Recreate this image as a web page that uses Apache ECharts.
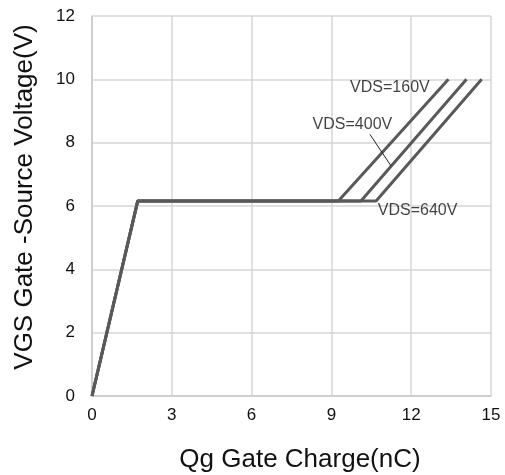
<!DOCTYPE html>
<html>
<head>
<meta charset="utf-8">
<script src="https://cdn.jsdelivr.net/npm/echarts@6/dist/echarts.min.js"></script>
<style>
  html, body { margin: 0; padding: 0; background: #fff; }
  #main { width: 505px; height: 475px; }
</style>
</head>
<body>
<div id="main"></div>
<script>
// gate charge curves, [Qg nC, VGS V]
var vds160 = [[0, 0], [1.72, 6.16], [9.26, 6.16], [13.4, 10]];
var vds400 = [[0, 0], [1.72, 6.16], [10.11, 6.16], [14.08, 10]];
var vds640 = [[0, 0], [1.72, 6.16], [10.68, 6.16], [14.65, 10]];
var curveNames = ['VDS=160V', 'VDS=400V', 'VDS=640V'];
// label anchor points in data units
var labelPos = [[11.2, 9.75], [9.79, 8.58], [12.24, 5.84]];
var leader = [[10.45, 8.26], [11.24, 7.27]];

var myChart = echarts.init(document.getElementById('main'));
var font = 'Liberation Sans, Arial, sans-serif';

function curve(name, data) {
    return {
        name: name,
        type: 'line',
        data: data,
        symbol: 'none',
        silent: true,
        lineStyle: { color: '#595959', width: 3 },
        z: 3
    };
}

var series = [
    curve(curveNames[0], vds160),
    curve(curveNames[1], vds400),
    curve(curveNames[2], vds640),
    {
        type: 'line',
        data: leader,
        symbol: 'none',
        silent: true,
        lineStyle: { color: '#222', width: 1 },
        z: 4
    },
    {
        type: 'scatter',
        symbolSize: 0,
        silent: true,
        data: labelPos.map(function (p, i) { return [p[0], p[1], curveNames[i]]; }),
        label: {
            show: true,
            position: 'inside',
            formatter: function (p) { return p.data[2]; },
            color: '#111',
            fontSize: 16,
            fontFamily: font
        },
        z: 5
    }
];

myChart.setOption({
    animation: false,
    grid: { left: 92, right: 14, top: 16, bottom: 79 },
    xAxis: {
        type: 'value',
        min: 0, max: 15, interval: 3,
        axisLine: { lineStyle: { color: '#c8c8c8', width: 1.5 } },
        axisTick: { show: false },
        axisLabel: { fontSize: 17, color: '#111', fontFamily: font, margin: 11 },
        splitLine: { lineStyle: { color: '#d6d6d6', width: 1.5 } }
    },
    yAxis: {
        type: 'value',
        min: 0, max: 12, interval: 2,
        axisLine: { show: true, lineStyle: { color: '#c8c8c8', width: 1.5 } },
        axisTick: { show: false },
        axisLabel: { fontSize: 17, color: '#111', fontFamily: font, margin: 17 },
        splitLine: { lineStyle: { color: '#d6d6d6', width: 1.5 } }
    },
    graphic: [{
        type: 'text',
        x: 25,
        y: 197,
        rotation: Math.PI / 2,
        style: {
            text: 'VGS Gate -Source Voltage(V)',
            fontSize: 26,
            fill: '#111',
            fontFamily: font,
            align: 'center',
            verticalAlign: 'middle'
        }
    }, {
        type: 'text',
        x: 300,
        y: 460,
        style: {
            text: 'Qg Gate Charge(nC)',
            fontSize: 26,
            fill: '#111',
            fontFamily: font,
            align: 'center',
            verticalAlign: 'middle'
        }
    }],
    series: series
});
</script>
</body>
</html>
